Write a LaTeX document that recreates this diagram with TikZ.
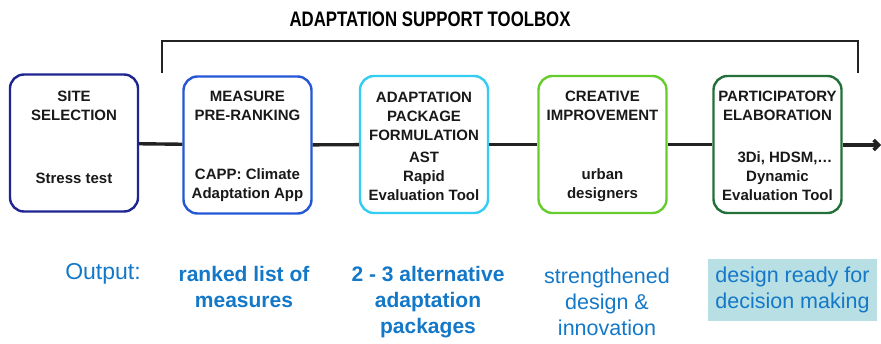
\documentclass[tikz,border=0pt]{standalone}
\usepackage{fontspec}
\setmainfont{Liberation Sans}
\usetikzlibrary{positioning}
\usetikzlibrary{arrows.meta}

\definecolor{sitecol}{HTML}{1E2490}
\definecolor{rankcol}{HTML}{2456D6}
\definecolor{packcol}{HTML}{33CCF2}
\definecolor{creacol}{HTML}{66CC2E}
\definecolor{partcol}{HTML}{23703A}
\definecolor{outblue}{HTML}{1478C8}
\definecolor{readybg}{HTML}{B8DFE3}
\definecolor{linegray}{HTML}{222222}

\begin{document}
\begin{tikzpicture}[x=1pt, y=-1pt,
  stage/.style={draw, line width=2.4pt, rounded corners=14pt,
    minimum width=128pt, minimum height=137pt},
  boxtext/.style={font=\fontsize{15}{19}\selectfont\bfseries, align=center, text=black!90},
  outtext/.style={font=\fontsize{21.5}{26}\selectfont, align=center, text=outblue},
  conn/.style={line width=3.4pt, draw=linegray}]

  \useasboundingbox (0,0) rectangle (881,343);

  % the five stages
  \node[stage, draw=sitecol] at (74, 143) (site) {};
  \node[stage, draw=rankcol] at (247.5, 145) (rank) {};
  \node[stage, draw=packcol] at (424, 144.5) (pack) {};
  \node[stage, draw=creacol] at (602.5, 144.5) (crea) {};
  \node[stage, draw=partcol] at (777.5, 144.5) (part) {};
  \coordinate (flowend) at (881, 145);

  \draw[conn] (site) -- (rank);
  \draw[conn] (rank) -- (pack);
  \draw[conn] (pack) -- (crea);
  \draw[conn] (crea) -- (part);
  \draw[conn, -{Straight Barb[length=5pt, width=10pt]}] (part.east |- flowend) -- (flowend);

  % texts inside the stages
  \node[boxtext] at (74, 106) (sitetop) {SITE\\SELECTION};
  \node[boxtext] at (74, 178) (sitebot) {Stress test};
  \node[boxtext] at (247.5, 106) (ranktop) {MEASURE\\PRE-RANKING};
  \node[boxtext] at (247.5, 185.5) (rankbot) {CAPP: Climate\\Adaptation App};
  \node[boxtext] at (424, 116.5) (packtop) {ADAPTATION\\PACKAGE\\FORMULATION};
  \node[boxtext] at (424, 176.5) (packbot) {AST\\Rapid\\Evaluation Tool};
  \node[boxtext] at (602.5, 105.5) (creatop) {CREATIVE\\IMPROVEMENT};
  \node[boxtext] at (602.5, 185.5) (creabot) {urban\\designers};
  \node[boxtext] at (777.5, 105.5) (parttop) {PARTICIPATORY\\ELABORATION};
  \node[boxtext] at (785, 158) (parttool) {3Di, HDSM,\ldots};
  \node[boxtext] at (777.5, 186) (partbot) {Dynamic\\Evaluation Tool};

  % toolbox bracket
  \coordinate (bracketl) at (162, 73);
  \coordinate (bracketr) at (858, 73);
  \draw[line width=2pt, draw=linegray] (bracketl) -- (162, 41) -- (858, 41) -- (bracketr);
  \node[font=\fontsize{21}{24}\selectfont\bfseries, xscale=0.8] at (430, 19) (toolbox)
    {ADAPTATION SUPPORT TOOLBOX};

  % outputs
  \node[outtext, font=\fontsize{23}{26}\selectfont] at (103, 274) (outlabel) {Output:};
  \node[outtext, font=\fontsize{21}{26}\selectfont\bfseries] at (244, 286.5) (outrank)
    {ranked list of\\measures};
  \node[outtext, font=\fontsize{21}{26}\selectfont\bfseries] at (428, 302) (outpack)
    {2 - 3 alternative\\adaptation\\packages};
  \node[outtext] at (607, 302) (outcrea) {strengthened\\design \&\\innovation};
  \node[outtext, fill=readybg, minimum width=169pt, minimum height=62pt] at (792.5, 290)
    (outpart) {design ready for\\decision making};
\end{tikzpicture}
\end{document}
